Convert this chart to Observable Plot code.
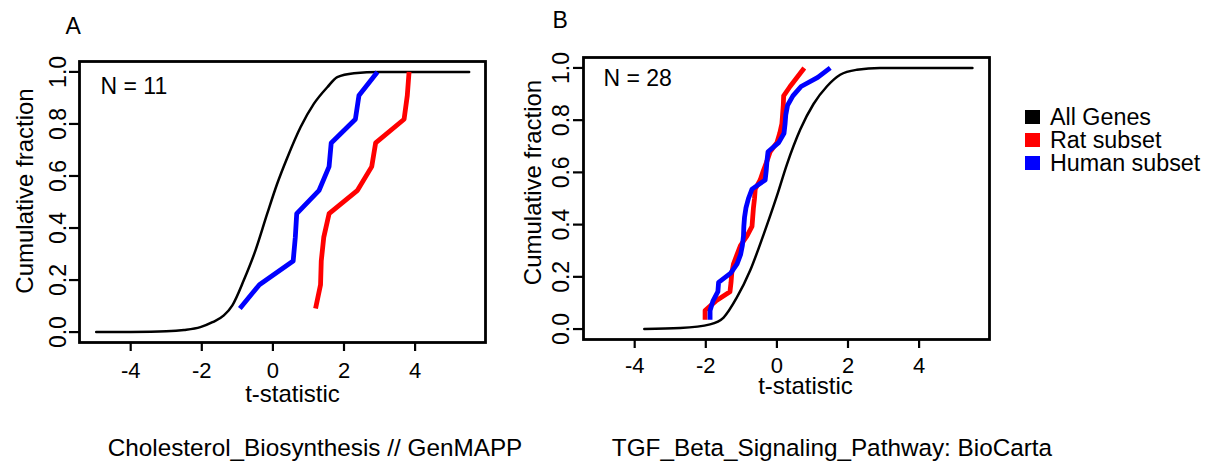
<!DOCTYPE html>
<html>
<head>
<meta charset="utf-8">
<script src="https://cdn.jsdelivr.net/npm/d3@7"></script>
<script src="https://cdn.jsdelivr.net/npm/@observablehq/plot@0.6"></script>
<style>
  html, body { margin: 0; padding: 0; background: #ffffff; }
  #root { position: relative; width: 1215px; height: 461px; overflow: hidden;
          font-family: "Liberation Sans", Arial, Helvetica, sans-serif; color: #000; }
  .panel { position: absolute; top: 0; }
  .caption { position: absolute; font-size: 24.3px; line-height: 24px; white-space: nowrap; transform: translateX(-50%); }
  .legrow { position: absolute; left: 1025px; height: 22px; font-size: 23.3px; line-height: 22px; white-space: nowrap; }
  .legrow .sw { position: absolute; left: 0; top: 4px; width: 15px; height: 14px; }
  .legrow .lab { position: absolute; left: 25px; top: 0; }
</style>
</head>
<body>
<div id="root"></div>
<script>
// ---------------- data ----------------
// Panel A: Cholesterol_Biosynthesis // GenMAPP (N = 11)
const allGenesA_t = [-4.97, -4.0, -3.0, -2.5, -2.04, -1.7, -1.38, -1.14, -0.82, -0.49, -0.16, 0.12, 0.41, 0.78, 1.15, 1.53, 1.81, 2.28, 3.0, 5.52];
const allGenesA_f = [0, 0.0005, 0.003, 0.008, 0.019, 0.038, 0.064, 0.103, 0.199, 0.314, 0.455, 0.57, 0.672, 0.788, 0.877, 0.941, 0.98, 0.995, 1.0, 1.0];
const subsetA_f   = [0.091, 0.182, 0.273, 0.364, 0.455, 0.545, 0.636, 0.727, 0.818, 0.909, 1.0];
const ratA_t      = [1.20, 1.34, 1.36, 1.43, 1.58, 2.38, 2.78, 2.89, 3.69, 3.78, 3.83];
const humanA_t    = [-0.93, -0.38, 0.57, 0.63, 0.67, 1.30, 1.58, 1.64, 2.32, 2.42, 2.94];

// Panel B: TGF_Beta_Signaling_Pathway: BioCarta (N = 28)
const allGenesB_t = [-3.73, -2.72, -1.88, -1.5, -1.13, -0.75, -0.38, 0, 0.28, 0.66, 1.03, 1.41, 1.78, 2.25, 2.9, 5.5];
const allGenesB_f = [0, 0.004, 0.018, 0.044, 0.12, 0.225, 0.36, 0.51, 0.63, 0.765, 0.862, 0.93, 0.974, 0.993, 1.0, 1.0];
const subsetB_f   = [0.036, 0.071, 0.107, 0.143, 0.179, 0.214, 0.25, 0.286, 0.321, 0.357, 0.393, 0.429, 0.464, 0.5,
                     0.536, 0.571, 0.607, 0.643, 0.679, 0.714, 0.75, 0.786, 0.821, 0.857, 0.893, 0.929, 0.964, 1.0];
const ratB_t      = [-2.02, -2.02, -1.72, -1.32, -1.29, -1.27, -1.22, -1.12, -1.02, -0.84, -0.70, -0.68, -0.66, -0.63,
                     -0.61, -0.47, -0.38, -0.28, -0.19, 0.0, 0.08, 0.14, 0.16, 0.18, 0.19, 0.37, 0.57, 0.77];
const humanB_t    = [-1.88, -1.88, -1.80, -1.66, -1.64, -1.30, -1.12, -1.02, -0.97, -0.94, -0.93, -0.91, -0.87, -0.80,
                     -0.70, -0.33, -0.30, -0.28, -0.25, 0.05, 0.20, 0.23, 0.25, 0.30, 0.45, 0.68, 1.15, 1.50];

const xTicks = [-4, -2, 0, 2, 4];
const yTicks = [0, 0.2, 0.4, 0.6, 0.8, 1.0];
const seriesNames  = ["All Genes", "Rat subset", "Human subset"];
const seriesColors = ["#000000", "#ff0000", "#0000ff"];
const captions = ["Cholesterol_Biosynthesis // GenMAPP", "TGF_Beta_Signaling_Pathway: BioCarta"];
const panelLetters = ["A", "B"];
const nLabels = ["N = 11", "N = 28"];
const xLabel = "t-statistic";
const yLabel = "Cumulative fraction";

// ---------------- helpers ----------------
const zip = (ts, fs) => ts.map((t, i) => ({t, f: fs[i]}));

function panel(cfg) {
  const font = "Liberation Sans, Arial, Helvetica, sans-serif";
  return Plot.plot({
    width: 500,
    height: 400,
    marginLeft: cfg.m[0], marginRight: cfg.m[1], marginTop: cfg.m[2], marginBottom: cfg.m[3],
    x: {domain: [-5.44, 5.98], label: null},
    y: {domain: [-0.04, 1.04], label: null},
    style: {fontFamily: font, fontSize: "23px", background: "transparent", color: "#000", overflow: "visible"},
    marks: [
      Plot.line(zip(cfg.allT, cfg.allF), {x: "t", y: "f", stroke: seriesColors[0], strokeWidth: 2.5, curve: "monotone-x"}),
      Plot.line(zip(cfg.ratT, cfg.subF), {x: "t", y: "f", stroke: seriesColors[1], strokeWidth: 4.8, strokeLinecap: "butt", strokeLinejoin: "round"}),
      Plot.line(zip(cfg.humT, cfg.subF), {x: "t", y: "f", stroke: seriesColors[2], strokeWidth: 4.8, strokeLinecap: "butt", strokeLinejoin: "round"}),
      Plot.frame({stroke: "#000", strokeWidth: 2.8}),
      Plot.axisX({ticks: xTicks, tickSize: 9, tickPadding: cfg.xPad, strokeWidth: 2.2, fontSize: 22, tickFormat: d => String(d), label: null}),
      Plot.axisY({ticks: yTicks, tickSize: 10, tickPadding: cfg.yPad, tickRotate: -90, strokeWidth: 2.2, tickFormat: d3.format(".1f"), label: null}),
      Plot.text([yLabel], {frameAnchor: "left", text: d => d, rotate: -90, textAnchor: "middle", lineAnchor: "bottom",
                           dx: cfg.yLab[0], dy: cfg.yLab[1], fontSize: 24}),
      Plot.text([xLabel], {frameAnchor: "bottom", text: d => d, textAnchor: "middle", lineAnchor: "bottom",
                           dx: cfg.xLab[0], dy: cfg.xLab[1], fontSize: 24}),
      Plot.text([cfg.n], {frameAnchor: "top-left", text: d => d, textAnchor: "start", lineAnchor: "bottom",
                          dx: cfg.nPos[0], dy: cfg.nPos[1], fontSize: 23}),
      Plot.text([cfg.letter], {frameAnchor: "top-left", text: d => d, textAnchor: "start", lineAnchor: "bottom",
                               dx: cfg.letPos[0], dy: cfg.letPos[1], fontSize: 23})
    ]
  });
}

const root = document.getElementById("root");

const panels = [
  {left: 0, m: [79, 15, 61, 58], allT: allGenesA_t, allF: allGenesA_f, ratT: ratA_t, humT: humanA_t, subF: subsetA_f,
   xPad: 11, yPad: 4, yLab: [-47, -11], xLab: [10, 59], n: nLabels[0], nPos: [21, 32], letter: panelLetters[0], letPos: [-14, -28]},
  {left: 500, m: [83, 11, 57, 61], allT: allGenesB_t, allF: allGenesB_f, ratT: ratB_t, humT: humanB_t, subF: subsetB_f,
   xPad: 9, yPad: 5, yLab: [-43, -16], xLab: [19, 54], n: nLabels[1], nPos: [20, 28], letter: panelLetters[1], letPos: [-31, -30]}
];

panels.forEach((cfg, i) => {
  const wrap = document.createElement("div");
  wrap.className = "panel";
  wrap.style.left = cfg.left + "px";
  wrap.appendChild(panel(cfg));
  root.appendChild(wrap);
});

// captions below each panel
const capCenters = [315, 832];
captions.forEach((c, i) => {
  const d = document.createElement("div");
  d.className = "caption";
  d.style.left = capCenters[i] + "px";
  d.style.top = "436px";
  d.textContent = c;
  root.appendChild(d);
});

// legend
seriesNames.forEach((name, i) => {
  const row = document.createElement("div");
  row.className = "legrow";
  row.style.top = (106 + i * 23) + "px";
  const sw = document.createElement("span");
  sw.className = "sw";
  sw.style.background = seriesColors[i];
  const lab = document.createElement("span");
  lab.className = "lab";
  lab.textContent = name;
  row.appendChild(sw);
  row.appendChild(lab);
  root.appendChild(row);
});
</script>
</body>
</html>
